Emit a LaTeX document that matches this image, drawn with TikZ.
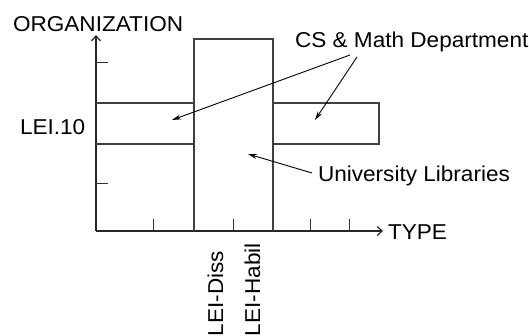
\documentclass[tikz,border=0pt]{standalone}
\usepackage{fontspec}
\setmainfont[FakeStretch=1.05]{Liberation Sans}
\usetikzlibrary{arrows.meta}
\begin{document}
\begin{tikzpicture}[x=1pt,y=-1pt,
  every node/.style={inner sep=0pt, outer sep=0pt, font=\fontsize{21.5}{24}\selectfont},
  axis/.style={line width=1.8pt, draw=black!85},
  tick/.style={line width=1pt, draw=black!80},
  area/.style={line width=1.2pt, draw=black!75},
  pointer/.style={line width=0.9pt, -{Stealth[length=9pt,width=5pt]}}]
\useasboundingbox (0,0) rectangle (529,336);

% axes
\coordinate (o) at (96,231);
\coordinate (ytip) at (96,35);
\coordinate (xtip) at (383,231);
\draw[axis, -{Straight Barb[length=5pt,width=9pt,line width=1.2pt]}] (o) -- (ytip);
\draw[axis, -{Straight Barb[length=5pt,width=9pt,line width=1.2pt]}] (o) -- (xtip);

% ticks
\foreach \y in {63,184} \draw[tick] (96,\y) -- (108,\y);
\foreach \x in {153,233,310,349} \draw[tick] (\x,231) -- (\x,219);

% regions
\draw[area] (194,231) -- (194,39) -- (273,39) -- (273,231);
\draw[area] (96,103) -- (194,103);
\draw[area] (96,144) -- (194,144);
\draw[area] (273,103) -- (379,103) -- (379,144) -- (273,144);

% labels
\node[anchor=base west] (org) at (13,32) {ORGANIZATION};
\node[anchor=base west] (lei) at (20,135) {LEI.10};
\node[anchor=base west] (cs) at (295,48) {CS \& Math Department};
\node[anchor=base west] (ul) at (318,182) {University Libraries};
\node[anchor=base west] (type) at (388,240) {TYPE};
\node[anchor=base west, rotate=90] (diss) at (223,336) {LEI-Diss};
\node[anchor=base west, rotate=90] (habil) at (260,336) {LEI-Habil};

% pointers
\coordinate (cs1) at (350,55);
\coordinate (cs2) at (357,57);
\coordinate (ul1) at (312,173);
\coordinate (leftbox) at (172,120);
\coordinate (rightbox) at (315,120);
\coordinate (midbox) at (248,154);
\draw[pointer] (cs1) -- (leftbox);
\draw[pointer] (cs2) -- (rightbox);
\draw[pointer] (ul1) -- (midbox);
\end{tikzpicture}
\end{document}
